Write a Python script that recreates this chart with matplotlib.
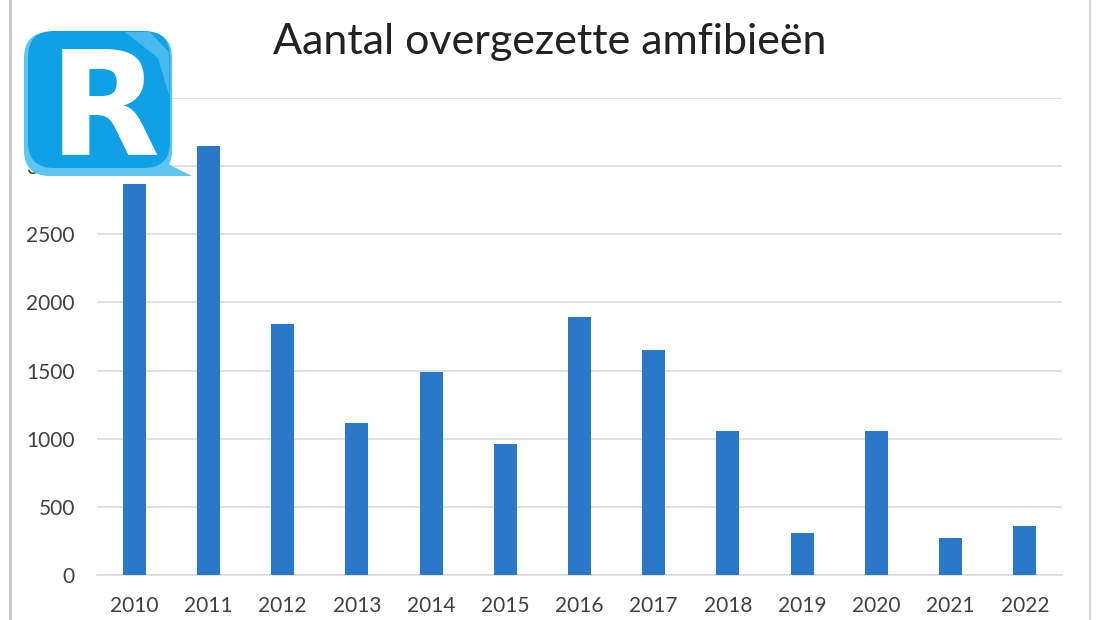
import matplotlib
matplotlib.use("Agg")
import matplotlib.pyplot as plt
from matplotlib.patches import FancyBboxPatch, Polygon
import numpy as np

years = ["2010", "2011", "2012", "2013", "2014", "2015", "2016",
         "2017", "2018", "2019", "2020", "2021", "2022"]
values = [2870, 3150, 1845, 1115, 1490, 960, 1895, 1650, 1055, 310, 1055, 275, 360]
yticks = [0, 500, 1000, 1500, 2000, 2500, 3000, 3500]
title = "Aantal overgezette amfibieën"

W, H = 1104, 620
fig = plt.figure(figsize=(W / 100, H / 100), dpi=100)
fig.patch.set_facecolor("white")

left, right, bottom, top = 97, 1062, 575, 98
ax = fig.add_axes([left / W, (H - bottom) / H, (right - left) / W, (bottom - top) / H])
x = np.arange(len(years))
ax.bar(x, values, width=0.31, color="#2a78c8", zorder=3)
ax.set_xlim(-0.5, len(years) - 0.5)
ax.set_ylim(0, 3500)
ax.set_yticks(yticks)
ax.set_yticklabels([str(v) for v in yticks])
ax.set_xticks(x)
ax.set_xticklabels(years)
ax.grid(axis="y", color="#d9d9d9", linewidth=1.1, zorder=0)
for s in ["top", "right", "left"]:
    ax.spines[s].set_visible(False)
ax.spines["bottom"].set_color("#d9d9d9")
ax.spines["bottom"].set_linewidth(1.1)
ax.tick_params(length=0, labelsize=15, labelcolor="#404040")
for lab in ax.get_xticklabels() + ax.get_yticklabels():
    lab.set_fontfamily("Lato")
ax.tick_params(axis="x", pad=15)
ax.tick_params(axis="y", pad=16)

fig.text(550 / W, 1 - 42 / H, title, ha="center", va="center",
         fontsize=31, fontfamily="Lato", color="#222222")

# overlay for frame and logo
ov = fig.add_axes([0, 0, 1, 1], facecolor="none")
ov.set_xlim(0, W)
ov.set_ylim(H, 0)
ov.axis("off")
ov.plot([10, 10], [0, H], color="#c8c8c8", lw=2)
ov.plot([1090, 1090], [0, H], color="#d4d4d4", lw=1.5)

ov.add_patch(Polygon([[140, 150], [192, 176], [150, 176]], closed=True,
                     facecolor="#5ec4f0", edgecolor="none", zorder=5))
ov.add_patch(FancyBboxPatch((24, 32), 148, 144, boxstyle="round,pad=0,rounding_size=26",
                            facecolor="#5ec4f0", edgecolor="none", zorder=5))
ov.add_patch(FancyBboxPatch((28, 31), 142, 137, boxstyle="round,pad=0,rounding_size=26",
                            facecolor="#10a0e6", edgecolor="none", zorder=6))
ov.add_patch(Polygon([[125, 32], [150, 32], [169, 52], [169, 95], [158, 58]], closed=True,
                     facecolor="#6dccf3", edgecolor="none", alpha=0.6, zorder=6))
ov.text(104, 155, "R", ha="center", va="baseline", fontsize=104,
        fontfamily="DejaVu Sans", fontweight="bold", color="white", zorder=7)

fig.savefig("out.png", dpi=100)
